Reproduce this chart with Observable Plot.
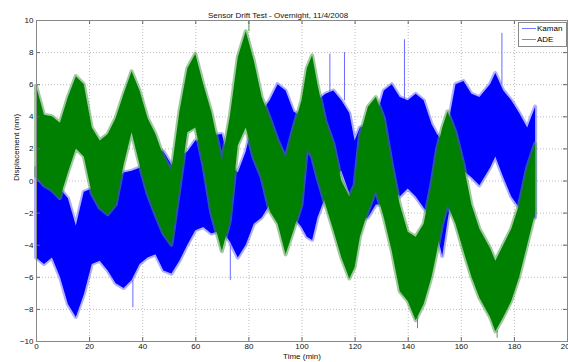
<!DOCTYPE html>
<html>
<head>
<meta charset="utf-8">
<script src="https://cdn.jsdelivr.net/npm/d3@7"></script>
<script src="https://cdn.jsdelivr.net/npm/@observablehq/plot@0.6"></script>
<style>
  html, body { margin: 0; padding: 0; background: #fff; }
  #wrap { position: relative; width: 568px; height: 362px; overflow: hidden; }
  #legend { position: absolute; left: 518px; top: 22px; width: 47px; height: 23px; border: 1px solid #888; background: #fff;
    font-family: "Liberation Sans", Arial, sans-serif; font-size: 8px; color: #000; }
  #legend .row { position: absolute; left: 3px; height: 10px; line-height: 10px; white-space: nowrap; }
  #legend .sw { display: inline-block; width: 14px; height: 0; border-top: 1px solid; vertical-align: middle; margin-right: 1px; }
</style>
</head>
<body>
<div id="wrap"></div>
<script>
// ---- data (time in minutes, displacement in nm) ----
const times = [0,3,6,9,12,15,18,21,24,27,30,33,36,39,42,45,48,51,54,57,60,63,66,
  70,73,76,79,82,85,88,91,94,97,100,
  102,104,106,109,112,115,118,120,122,125,128,131,134,137,140,143,146,149,
  151,153,155,158,161,164,167,171,173,176,179,182,185,188];

const kamanHigh = [0.8,0.5,0.0,-0.5,-1.1,-2.8,-0.7,-0.5,-0.5,-0.5,0.0,0.5,0.6,0.8,1.5,2.0,1.8,1.0,1.5,1.8,2.5,2.5,2.8,
  2.9,1.0,0.5,1.8,3.9,4.3,5.0,6.0,5.6,4.3,4.0,
  4.0,3.5,5.0,5.4,5.6,5.0,4.2,2.5,3.3,3.5,3.9,5.6,6.0,5.2,5.0,5.4,5.0,3.5,
  2.9,2.5,3.3,6.0,6.2,5.4,5.2,6.0,6.7,5.6,5.0,4.2,3.3,4.6];
const kamanLow = [-4.8,-5.2,-4.8,-6.0,-7.7,-8.5,-7.1,-5.2,-5.0,-5.6,-6.4,-6.7,-6.2,-5.2,-4.8,-4.6,-5.6,-5.8,-5.0,-4.0,-3.1,-2.9,-3.3,
  -3.1,-3.8,-4.8,-4.0,-2.7,-2.3,-1.5,-1.0,-1.5,-2.3,-2.9,
  -3.5,-3.7,-2.3,-1.0,0.2,0.6,-0.8,-3.0,-2.5,-2.3,-1.5,-1.5,-0.5,-1.0,-0.5,-1.0,-1.7,-2.3,
  -3.3,-4.7,-2.5,0.4,0.6,0.2,-0.3,0.8,1.5,0.2,-1.0,-1.7,-2.3,-2.3];

const adeHigh = [5.9,4.1,4.0,3.6,5.2,6.5,6.0,3.3,2.5,2.9,3.9,5.4,6.8,5.6,3.9,2.9,1.5,0.6,4.3,7.0,7.9,6.0,4.3,
  1.2,4.0,7.7,9.3,7.5,5.2,3.9,2.5,1.4,3.3,5.0,
  7.0,7.8,6.0,3.7,2.3,0.0,-1.0,-0.3,2.8,4.6,5.2,3.9,1.0,-1.5,-3.2,-3.5,-2.7,-0.2,
  1.9,3.3,4.3,3.0,1.0,-1.5,-3.0,-4.2,-5.0,-4.0,-3.0,-1.5,0.8,2.3];
const adeLow = [0.3,-0.3,-0.6,-1.1,0.5,2.0,1.5,-0.8,-1.7,-2.1,-1.5,1.0,3.0,1.0,-0.8,-2.1,-3.3,-4.0,-0.5,3.0,3.3,1.0,-2.0,
  -4.4,-2.5,2.2,3.3,1.4,0.2,-1.9,-2.7,-4.6,-3.1,-1.5,
  2.0,1.5,0.2,-1.5,-3.1,-4.8,-6.1,-5.4,-3.5,-1.9,-0.6,-2.3,-4.4,-6.9,-7.5,-8.7,-7.7,-6.0,
  -4.4,-2.7,-1.5,-2.7,-4.4,-6.0,-7.3,-8.5,-9.4,-8.5,-7.5,-6.0,-4.0,-2.0];

// isolated spikes visible beyond the bands
const kamanSpikeT    = [36.3, 73.0, 110.5, 116.0, 138.6, 175.3];
const kamanSpikeFrom = [-6.2, -4.0, 5.5, 5.0, 5.0, 6.0];
const kamanSpikeTo   = [-7.9, -6.2, 7.9, 8.0, 8.8, 9.2];
const adeSpikeT    = [80.0, 143.5, 173.5];
const adeSpikeFrom = [9.3, -8.5, -9.3];
const adeSpikeTo   = [10.0, -9.2, -9.8];

const xTicks = [0,20,40,60,80,100,120,140,160,180,200];
const yTicks = [-10,-8,-6,-4,-2,0,2,4,6,8,10];

const seriesNames = ["Kaman", "ADE"];
const seriesColors = ["#0000ff", "#008000"];
const fringeColors = ["#6b6bff", "#4f9f4f"];
const titleText = "Sensor Drift Test - Overnight, 11/4/2008";
const xLabel = "Time (min)";
const yLabel = "Displacement (nm)";

// ---- build tables ----
const kaman = times.map((t, i) => ({t, lo: kamanLow[i], hi: kamanHigh[i]}));
const ade = times.map((t, i) => ({t, lo: adeLow[i], hi: adeHigh[i]}));
const kSpikes = kamanSpikeT.map((t, i) => ({t, a: kamanSpikeFrom[i], b: kamanSpikeTo[i]}));
const aSpikes = adeSpikeT.map((t, i) => ({t, a: adeSpikeFrom[i], b: adeSpikeTo[i]}));

const W = 568, H = 362, mL = 36, mR = 1, mT = 20, mB = 21;
const fw = W - mL - mR, fh = H - mT - mB, tick = 4;

const chart = Plot.plot({
  width: W, height: H,
  marginLeft: mL, marginRight: mR, marginTop: mT, marginBottom: mB,
  x: {domain: [0, 200], ticks: xTicks, label: null},
  y: {domain: [-10, 10], ticks: yTicks, label: null},
  style: {fontFamily: "'Liberation Sans', Arial, sans-serif", fontSize: "8px", background: "#fff", color: "#000", overflow: "visible"},
  marks: [
    Plot.gridX(xTicks, {stroke: "#bdbdbd", strokeOpacity: 1, strokeDasharray: "1,2"}),
    Plot.gridY(yTicks, {stroke: "#bdbdbd", strokeOpacity: 1, strokeDasharray: "1,2"}),
    // Kaman: soft spiky fringe, then dense core
    Plot.areaY(kaman, {x: "t", y1: "lo", y2: "hi", fill: "none", stroke: fringeColors[0], strokeWidth: 4, strokeOpacity: 0.55, strokeLinejoin: "round"}),
    Plot.ruleX(kSpikes, {x: "t", y1: "a", y2: "b", stroke: fringeColors[0]}),
    Plot.areaY(kaman, {x: "t", y1: "lo", y2: "hi", fill: seriesColors[0]}),
    // ADE
    Plot.areaY(ade, {x: "t", y1: "lo", y2: "hi", fill: "none", stroke: fringeColors[1], strokeWidth: 4, strokeOpacity: 0.55, strokeLinejoin: "round"}),
    Plot.ruleX(aSpikes, {x: "t", y1: "a", y2: "b", stroke: fringeColors[1]}),
    Plot.areaY(ade, {x: "t", y1: "lo", y2: "hi", fill: seriesColors[1]}),
    Plot.tickX(xTicks, {x: d => d, insetTop: fh - tick, stroke: "#666"}),
    Plot.tickX(xTicks, {x: d => d, insetBottom: fh - tick, stroke: "#666"}),
    Plot.tickY(yTicks, {y: d => d, insetRight: fw - tick, stroke: "#666"}),
    Plot.tickY(yTicks, {y: d => d, insetLeft: fw - tick, stroke: "#666"}),
    Plot.frame({stroke: "#888"}),
    Plot.axisX(xTicks, {tickSize: 0, tickPadding: 2, fill: "#111"}),
    Plot.axisY(yTicks, {tickSize: 0, tickPadding: 3, fill: "#111"}),
    Plot.text([xLabel], {frameAnchor: "bottom", dy: 17, fill: "#111"}),
    Plot.text([yLabel], {frameAnchor: "left", dx: -20, rotate: -90, fill: "#111"}),
    Plot.text([titleText], {frameAnchor: "top", dy: -8, dx: -24, fill: "#111"})
  ]
});

const wrap = document.getElementById("wrap");
wrap.appendChild(chart);
const legend = document.createElement("div");
legend.id = "legend";
seriesNames.forEach((name, i) => {
  const row = document.createElement("div");
  row.className = "row";
  row.style.top = (1 + i * 11) + "px";
  const sw = document.createElement("span");
  sw.className = "sw";
  sw.style.borderTopColor = i === 0 ? "#7777ff" : "#66aa66";
  row.appendChild(sw);
  row.appendChild(document.createTextNode(name));
  legend.appendChild(row);
});
wrap.appendChild(legend);
</script>
</body>
</html>
